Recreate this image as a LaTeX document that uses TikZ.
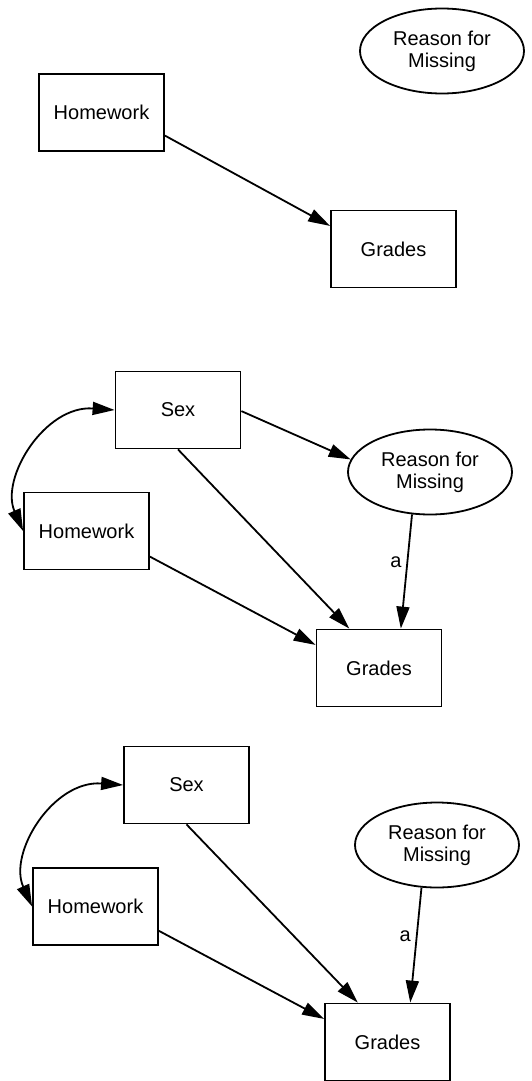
\documentclass[tikz,border=0pt]{standalone}
\usepackage{fontspec}
\setmainfont{Liberation Sans}
\usetikzlibrary{arrows.meta,shapes.geometric}
\begin{document}
\begin{tikzpicture}[x=1pt,y=-1pt,
  box/.style={draw,line width=1.8pt,minimum width=125pt,minimum height=77pt,inner sep=0pt,font=\fontsize{20}{22}\selectfont},
  oval/.style={draw,ellipse,line width=1.8pt,minimum width=164pt,minimum height=85pt,inner sep=0pt,align=center,font=\fontsize{20}{22}\selectfont},
  conn/.style={line width=1.8pt,-{Triangle[length=22pt,width=13pt]}},
  dconn/.style={line width=1.8pt,{Triangle[length=22pt,width=13pt]}-{Triangle[length=22pt,width=13pt]}},
  lab/.style={font=\fontsize{20}{22}\selectfont,inner sep=0pt}]
\useasboundingbox (0,0) rectangle (531,1081);
% Panel 1
\node[oval] (rm1) at (442,51) {Reason for\\Missing};
\node[box] (hw1) at (101.5,112.5) {Homework};
\node[box] (gr1) at (393.5,249) {Grades};
\draw[conn] (hw1.-20.6) -- (gr1.160.6);
% Panel 2
\node[box] (sx2) at (178,410) {Sex};
\node[oval] (rm2) at (430,472) {Reason for\\Missing};
\node[box] (hw2) at (86.5,531) {Homework};
\node[box] (gr2) at (379,668) {Grades};
\draw[conn] (sx2.-1) -- (rm2.171.7);
\draw[conn] (sx2.south) -- (gr2.127.6);
\draw[conn] (hw2.-22) -- (gr2.160.8);
\draw[conn] (rm2.-113.7) -- (gr2.61.7) node[lab,pos=0.42,left=5pt] (a2) {a};
\draw[dconn] (sx2.west) .. controls (45,405) and (0,478) .. (hw2.west);
% Panel 3
\node[box] (sx3) at (186.5,785) {Sex};
\node[oval] (rm3) at (437,845) {Reason for\\Missing};
\node[box] (hw3) at (95.5,906.5) {Homework};
\node[box] (gr3) at (387.5,1042) {Grades};
\draw[conn] (sx3.south) -- (gr3.127.8);
\draw[conn] (hw3.-21.1) -- (gr3.160.6);
\draw[conn] (rm3.-110.4) -- (gr3.60.5) node[lab,pos=0.42,left=5pt] (a3) {a};
\draw[dconn] (sx3.west) .. controls (53,780) and (8,853) .. (hw3.west);
\end{tikzpicture}
\end{document}
